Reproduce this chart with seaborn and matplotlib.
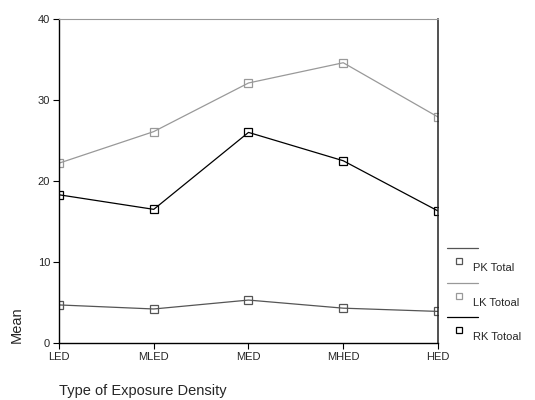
import pandas as pd
import seaborn as sns
import matplotlib.pyplot as plt
from matplotlib.lines import Line2D

categories = ['LED', 'MLED', 'MED', 'MHED', 'HED']
pk_total = [4.7, 4.2, 5.3, 4.3, 3.9]
lk_totoal = [22.2, 26.1, 32.1, 34.6, 27.9]
rk_totoal = [18.3, 16.5, 26.0, 22.5, 16.3]

series_names = ['PK Total', 'LK Totoal', 'RK Totoal']
series_values = [pk_total, lk_totoal, rk_totoal]
series_colors = ['#555555', '#999999', '#000000']

sns.set_style('white')
plt.rcParams['font.family'] = ['Liberation Sans', 'DejaVu Sans']

fig = plt.figure(figsize=(5.35, 4.0), dpi=100)
ax = fig.add_axes([59 / 535, 1 - 343 / 400, 379 / 535, 324 / 400])

for name, vals, col in zip(series_names, series_values, series_colors):
    df = pd.DataFrame({'x': range(len(categories)), 'Mean': vals})
    sns.lineplot(data=df, x='x', y='Mean', ax=ax, color=col, linewidth=0.9,
                 marker='s', markersize=5.5, markerfacecolor='none',
                 markeredgecolor=col, markeredgewidth=0.9)

ax.set_xlim(0, len(categories) - 1)
ax.set_ylim(0, 40)
ax.set_xticks(range(len(categories)))
ax.set_xticklabels(categories)
ax.set_yticks([0, 10, 20, 30, 40])
ax.tick_params(axis='both', direction='out', length=4.5, width=0.8, color='black',
               labelsize=8, pad=2, bottom=True, left=True)
ax.set_xlabel('')
ax.set_ylabel('')

for side in ['left', 'bottom']:
    ax.spines[side].set_color('black')
    ax.spines[side].set_linewidth(1.0)
ax.spines['right'].set_color('#222222')
ax.spines['right'].set_linewidth(1.1)
ax.spines['top'].set_color('#999999')
ax.spines['top'].set_linewidth(0.8)

fig.text(17 / 535, 1 - 325 / 400, 'Mean', rotation=90, fontsize=10.5,
         ha='center', va='center')
fig.text(59 / 535, 1 - 391 / 400, 'Type of Exposure Density', fontsize=10.5,
         ha='left', va='center')

# legend: line above, marker + label below
leg_rows = [248, 283, 317]
for y0, name, col in zip(leg_rows, series_names, series_colors):
    fig.add_artist(Line2D([447 / 535, 478 / 535], [1 - y0 / 400, 1 - y0 / 400],
                          color=col, linewidth=0.9, transform=fig.transFigure))
    fig.add_artist(Line2D([459 / 535], [1 - (y0 + 13) / 400], marker='s',
                          markersize=5, markerfacecolor='none', markeredgecolor=col,
                          markeredgewidth=0.9, linestyle='none',
                          transform=fig.transFigure))
    fig.text(473 / 535, 1 - (y0 + 20) / 400, name, fontsize=8,
             ha='left', va='center')

fig.savefig('out.png', dpi=100)
